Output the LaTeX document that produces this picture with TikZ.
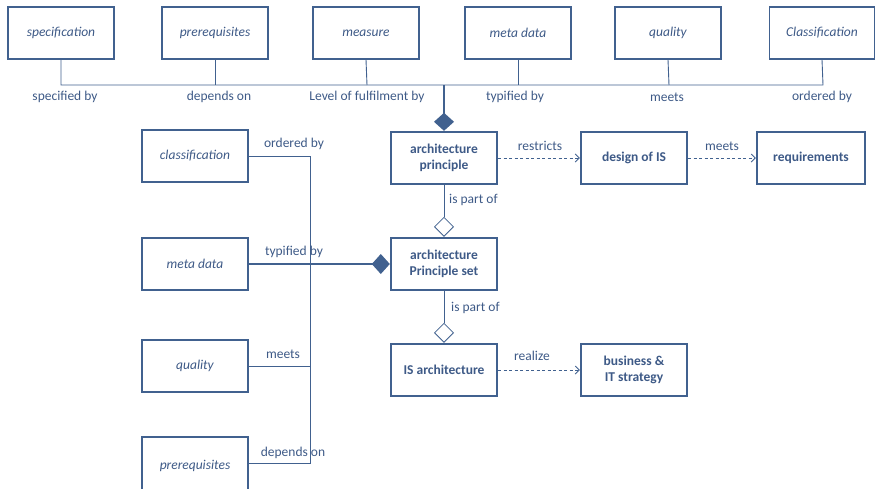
\documentclass[tikz,border=0pt]{standalone}
\usepackage{fontspec}
\setmainfont{Carlito}
\usetikzlibrary{arrows.meta,shapes.geometric}
\definecolor{ink}{RGB}{65,97,143}
\definecolor{txt}{RGB}{62,90,135}
\tikzset{
  box/.style={draw=ink,line width=1.2pt,fill=white,minimum width=106pt,minimum height=52pt,
    inner sep=0pt,text=txt,font=\itshape\fontsize{13.5}{16}\selectfont,align=center},
  mainbox/.style={box,line width=2.4pt,font=\bfseries\fontsize{13.5}{16}\selectfont},
  conn/.style={draw=ink,line width=0.9pt},
  rel/.style={text=txt,font=\fontsize{13.5}{16}\selectfont,inner sep=0pt},
  dep/.style={conn,dashed,dash pattern=on 3pt off 2.5pt,-{Straight Barb[length=4pt,width=8pt,line width=0.8pt]}},
  whole/.style={conn,-{Diamond[length=18pt,width=20pt,fill=ink]}},
  part/.style={conn,{Diamond[length=20pt,width=20pt,open,fill=white,line width=0.8pt]}-}
}
\begin{document}
\begin{tikzpicture}[x=1pt,y=-1pt]
\useasboundingbox (0,0) rectangle (875,488);

% attribute boxes along the top
\node[box] (tspec) at (61,33) {specification};
\node[box] (tpre)  at (215,33) {prerequisites};
\node[box] (tmeas) at (366,33) {measure};
\node[box] (tmeta) at (518,33) {meta data};
\node[box] (tqual) at (668,33) {quality};
\node[box,minimum width=105pt] (tclass) at (822,33) {Classification};

% attribute boxes on the left (the last one runs off the lower edge)
\node[box] (lclass) at (195,156) {classification};
\node[box] (lmeta)  at (195,264) {meta data};
\node[box] (lqual)  at (195,366) {quality};
\node[box,minimum height=60pt] (lpre) at (195,467) {\raisebox{4pt}{prerequisites}};
\coordinate (lpreE) at (248,463);

% main elements
\node[mainbox] (ap)  at (444,158) {architecture\\principle};
\node[mainbox] (aps) at (444,264) {architecture\\Principle set};
\node[mainbox] (isa) at (444,370) {IS architecture};
\node[mainbox] (dis) at (634,158) {design of IS};
\node[mainbox,minimum width=108pt] (req) at (811,158) {requirements};
\node[mainbox] (bit) at (634,370) {business \&\\IT strategy};

% top bus
\coordinate (busL) at (61,85);
\coordinate (busR) at (823,85);
\coordinate (busJ) at (444,85);
\draw[conn] (tspec.south) |- (busL) -- (busR) -- (tclass.south);
\foreach \n/\x in {tpre/215,tmeas/367,tmeta/518,tqual/669}
  \draw[conn] (\n.south) -- (\x,85);
\draw[whole,line width=1.8pt] (busJ) -- (ap.north);

\node[rel] at (65,97) {specified by};
\node[rel] at (219,97) {depends on};
\node[rel] at (367,97) {Level of fulfilment by};
\node[rel] at (515,97) {typified by};
\node[rel] at (667,97) {meets};
\node[rel] at (822,97) {ordered by};

% left bus
\coordinate (lbT) at (310,156);
\coordinate (lbB) at (310,463);
\draw[conn] (lclass.east) -- (lbT) -- (lbB) -- (lpreE);
\draw[conn] (lqual.east) -- (310,366);
\draw[whole,line width=1.2pt] (lmeta.east) -- (aps.west);

\node[rel] at (294,144) {ordered by};
\node[rel] at (294,252) {typified by};
\node[rel] at (283,354) {meets};
\node[rel] at (293,453) {depends on};

% composition
\draw[part] (aps.north) -- (ap.south);
\draw[part] (isa.north) -- (aps.south);
\node[rel,anchor=west] at (449,200) {is part of};
\node[rel,anchor=west] at (451,308) {is part of};

% dependencies
\draw[dep] (ap.east) -- (dis.west);
\draw[dep] (dis.east) -- (req.west);
\draw[dep] (isa.east) -- (bit.west);
\node[rel] at (540,146) {restricts};
\node[rel] at (722,146) {meets};
\node[rel] at (532,356) {realize};
\end{tikzpicture}
\end{document}
